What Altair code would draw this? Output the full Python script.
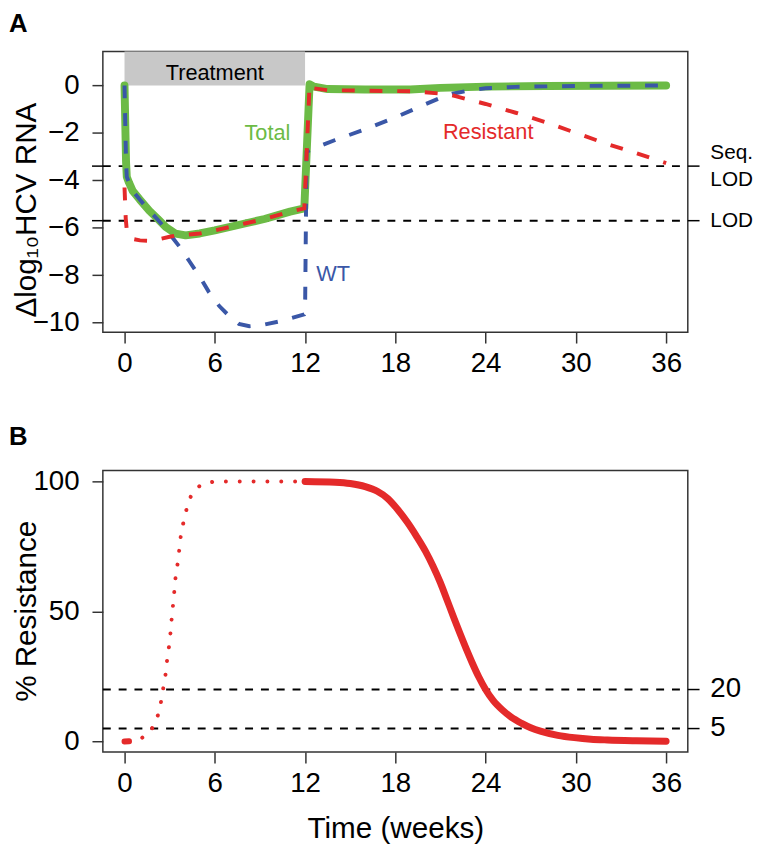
import altair as alt
import pandas as pd

FONT = "Liberation Sans"
GREEN = "#6cbb46"
BLUE = "#3a57a7"
RED = "#e42a2a"
BLACK = "#000000"

# ---------------- Panel A data ----------------
total_t = [0, 0.05, 0.1, 0.15, 0.3, 0.55, 1.0, 1.65, 2.2, 2.74, 3.4, 4.06, 5.0, 6.0, 8.0, 9.3,
           11.0, 11.95, 12.3, 12.6, 13.5, 16, 19, 21, 24, 28, 36]
total_y = [0, -1.6, -3.2, -3.85, -4.1, -4.45, -4.8, -5.28, -5.62, -5.97, -6.25, -6.32, -6.24, -6.11,
           -5.82, -5.63, -5.32, -5.18, 0.05, -0.05, -0.15, -0.17, -0.17, -0.1, -0.05, -0.02, 0]

wt_t = [0, 0.05, 0.1, 0.15, 0.3, 0.55, 1.0, 1.65, 2.2, 2.74, 3.66, 4.3, 5.0, 5.6, 6.3, 7.0, 7.6,
        8.3, 9.0, 10.4, 11.95, 12.0, 12.1, 12.4, 14, 15.9, 18, 19.85, 21.0, 21.8, 23, 24, 26, 30, 36]
wt_y = [0, -1.6, -3.2, -3.85, -4.1, -4.45, -4.8, -5.28, -5.65, -6.05, -6.8, -7.4, -8.06, -8.7, -9.3,
        -9.75, -10.05, -10.15, -10.12, -9.93, -9.65, -9.6, -2.8, -2.7, -2.3, -1.87, -1.35, -0.83,
        -0.52, -0.35, -0.2, -0.12, -0.06, -0.02, 0]

res_t = [0, 0.08, 0.15, 0.3, 0.6, 1.03, 1.7, 2.35, 3.0, 3.6, 4.06, 5.0, 6.0, 8.0, 9.3, 11.0, 11.95,
         12.3, 12.6, 13.5, 16, 19.4, 21.6, 22, 24, 26, 28, 30, 32, 34, 36]
res_y = [-4.3, -5.6, -6.1, -6.35, -6.48, -6.53, -6.55, -6.47, -6.38, -6.3, -6.3, -6.24, -6.11, -5.82,
         -5.63, -5.32, -5.18, 0.05, -0.12, -0.2, -0.22, -0.25, -0.38, -0.45, -0.78, -1.15, -1.55,
         -2.0, -2.45, -2.85, -3.27]

lod_a_values = [-3.4, -5.7]
lod_a_labels = [["Seq.", "LOD"], ["LOD"]]

# ---------------- Panel B data ----------------
dot_t = [0.3, 1.14, 1.8, 2.19, 2.41, 2.56, 2.72, 2.82, 2.95, 3.05, 3.13, 3.22, 3.31, 3.39, 3.53,
         3.64, 3.74, 3.92, 4.14, 4.45, 5.06, 5.98, 12.0]
dot_y = [0.1, 1.3, 4.7, 9.5, 14.8, 20, 25.6, 30.9, 36.3, 41.5, 47, 52.3, 57.7, 63, 68.4, 73.8, 79.1,
         84.4, 89.7, 95, 98.7, 100, 100]
blob_t = [0, 0.3]
blob_y = [0, 0.1]
solid_t = [12, 14, 15, 16, 16.8, 17.5, 18.1, 18.8, 19.4, 20, 20.5, 21.0, 21.4, 21.85, 22.3, 22.7,
           23.1, 23.55, 24.0, 24.5, 25.1, 25.7, 26.4, 27.0, 27.7, 28.8, 29.9, 31, 32.1, 34, 36]
solid_y = [100, 99.7, 99.2, 98.0, 96.2, 93.4, 89.6, 84.3, 79.0, 73.2, 67.5, 61.0, 55.0, 48.2, 41.5,
           35.8, 30.4, 24.8, 20.0, 15.8, 12.2, 9.4, 7.0, 5.3, 3.9, 2.4, 1.5, 0.9, 0.6, 0.3, 0.1]

thr_b_values = [20, 5]
thr_b_labels = ["20", "5"]

x_ticks = [0, 6, 12, 18, 24, 30, 36]
ya_ticks = [-10, -8, -6, -4, -2, 0]
yb_ticks = [0, 50, 100]

X_DOM = [-1.44, 37.44]
YA_DOM = [-10.4, 1.43]
YB_DOM = [-4.05, 104.2]
W, HA, HB = 592, 284, 285


def line_df(ts, ys):
    return pd.DataFrame({"t": ts, "v": ys, "i": list(range(len(ts)))})


common_axis = dict(domain=False, grid=False, tickSize=11, tickWidth=1.5, tickColor="#333333",
                   labelFont=FONT, labelFontSize=28, labelColor=BLACK, labelFlush=False,
                   labelOverlap=False, labelBound=False, titleFont=FONT,
                   titleColor=BLACK, titleFontWeight="normal")

xA = alt.X("t:Q", scale=alt.Scale(domain=X_DOM, nice=False, zero=False),
           axis=alt.Axis(values=x_ticks, title=None, labelPadding=7, **common_axis))
xB = alt.X("t:Q", scale=alt.Scale(domain=X_DOM, nice=False, zero=False),
           axis=alt.Axis(values=x_ticks, title="Time (weeks)", labelPadding=7, titleY=86,
                         titleFontSize=30, titleBaseline="alphabetic", **common_axis))
yA = alt.Y("v:Q", scale=alt.Scale(domain=YA_DOM, nice=False, zero=False),
           axis=alt.Axis(values=ya_ticks, title="Δlog₁₀HCV RNA", labelPadding=13, titleX=-68,
                         titleY=160, titleAngle=270, titleAlign="center", titleFontSize=30,
                         titleBaseline="alphabetic", **common_axis))
yB = alt.Y("v:Q", scale=alt.Scale(domain=YB_DOM, nice=False, zero=False),
           axis=alt.Axis(values=yb_ticks, title="% Resistance", labelPadding=13, titleX=-68,
                         titleY=142, titleAngle=270, titleAlign="center", titleFontSize=30,
                         titleBaseline="alphabetic", **common_axis))

# ---------------- Panel A ----------------
treat = alt.Chart(pd.DataFrame({"t": [0], "t2": [12], "v": [0], "v2": [YA_DOM[1]]})).mark_rect(
    color="#c8c8c8").encode(x=xA, x2="t2:Q", y=yA, y2="v2:Q")
treat_txt = alt.Chart(pd.DataFrame({"t": [6], "v": [0.51], "s": ["Treatment"]})).mark_text(
    font=FONT, fontSize=22, color=BLACK, baseline="middle", align="center").encode(
    x=xA, y=yA, text="s:N")

lodA = pd.DataFrame({"t": [X_DOM[0]] * 2, "t2": [X_DOM[1]] * 2, "v": lod_a_values})
lodA_rule = alt.Chart(lodA).mark_rule(color=BLACK, strokeWidth=2, strokeDash=[8, 8]).encode(
    x=xA, x2="t2:Q", y=yA)
stubA = pd.DataFrame({"t": [X_DOM[1]] * 2 + [-2.16] * 2, "t2": [38.22] * 2 + [X_DOM[0]] * 2,
                      "v": lod_a_values + lod_a_values})
stubA_rule = alt.Chart(stubA).mark_rule(color=BLACK, strokeWidth=1.5).encode(x=xA, x2="t2:Q", y=yA)

lab_rows = []
for val, labs in zip(lod_a_values, lod_a_labels):
    if len(labs) == 2:
        lab_rows.append({"t": 38.94, "v": val + 0.55, "s": labs[0]})
        lab_rows.append({"t": 38.94, "v": val - 0.6, "s": labs[1]})
    else:
        lab_rows.append({"t": 38.94, "v": val - 0.02, "s": labs[0]})
lodA_txt = alt.Chart(pd.DataFrame(lab_rows)).mark_text(
    font=FONT, fontSize=21, color=BLACK, align="left", baseline="middle").encode(
    x=xA, y=yA, text="s:N")

total_line = alt.Chart(line_df(total_t, total_y)).mark_line(
    color=GREEN, strokeWidth=8, strokeJoin="round", strokeCap="round").encode(
    x=xA, y=yA, order="i:Q")
wt_line = alt.Chart(line_df(wt_t, wt_y)).mark_line(
    color=BLUE, strokeWidth=4, strokeDash=[13, 15]).encode(x=xA, y=yA, order="i:Q")
res_line = alt.Chart(line_df(res_t, res_y)).mark_line(
    color=RED, strokeWidth=4, strokeDash=[13, 15]).encode(x=xA, y=yA, order="i:Q")

series_lab = pd.DataFrame({"t": [9.5, 24.17, 13.87], "v": [-1.99, -1.95, -7.95],
                           "s": ["Total", "Resistant", "WT"]})
series_txt = alt.Chart(series_lab).mark_text(font=FONT, fontSize=22, baseline="middle",
                                             align="center").encode(
    x=xA, y=yA, text="s:N",
    color=alt.Color("s:N", scale=alt.Scale(domain=["Total", "Resistant", "WT"],
                                           range=[GREEN, RED, BLUE]), legend=None))

letterA = alt.Chart(pd.DataFrame({"s": ["A"]})).mark_text(
    font=FONT, fontSize=26, fontWeight="bold", align="left", baseline="alphabetic",
    color=BLACK).encode(x=alt.value(-95), y=alt.value(-20), text="s:N")

panelA = alt.layer(treat, treat_txt, lodA_rule, stubA_rule, lodA_txt, total_line, wt_line,
                   res_line, series_txt, letterA).properties(width=W, height=HA)

# ---------------- Panel B ----------------
thrB = pd.DataFrame({"t": [X_DOM[0]] * 2, "t2": [X_DOM[1]] * 2, "v": thr_b_values})
thrB_rule = alt.Chart(thrB).mark_rule(color=BLACK, strokeWidth=2, strokeDash=[8, 8]).encode(
    x=xB, x2="t2:Q", y=yB)
stubB = pd.DataFrame({"t": [X_DOM[1]] * 2, "t2": [38.22] * 2, "v": thr_b_values})
stubB_rule = alt.Chart(stubB).mark_rule(color=BLACK, strokeWidth=1.5).encode(x=xB, x2="t2:Q", y=yB)
thrB_txt = alt.Chart(pd.DataFrame({"t": [38.94] * 2, "v": thr_b_values, "s": thr_b_labels})).mark_text(
    font=FONT, fontSize=28, color=BLACK, align="left", baseline="middle").encode(
    x=xB, y=yB, text="s:N")

dot_line = alt.Chart(line_df(dot_t, dot_y)).mark_line(
    color=RED, strokeWidth=4, strokeDash=[0.01, 14], strokeCap="round").encode(
    x=xB, y=yB, order="i:Q")
blob_line = alt.Chart(line_df(blob_t, blob_y)).mark_line(
    color=RED, strokeWidth=6, strokeCap="round").encode(x=xB, y=yB, order="i:Q")
solid_line = alt.Chart(line_df(solid_t, solid_y)).mark_line(
    color=RED, strokeWidth=7, strokeCap="round", strokeJoin="round",
    interpolate="monotone").encode(x=xB, y=yB, order="i:Q")

letterB = alt.Chart(pd.DataFrame({"s": ["B"]})).mark_text(
    font=FONT, fontSize=26, fontWeight="bold", align="left", baseline="alphabetic",
    color=BLACK).encode(x=alt.value(-95), y=alt.value(-26), text="s:N")

panelB = alt.layer(thrB_rule, stubB_rule, thrB_txt, dot_line, blob_line, solid_line,
                   letterB).properties(width=W, height=HB)

chart = alt.vconcat(panelA, panelB, spacing=45).properties(
    padding={"top": -3, "left": 0, "right": 0, "bottom": 0}).configure_view(
    stroke="#333333", strokeWidth=1.5)

chart.save("out.html", embed_options={"renderer": "svg", "actions": False})
